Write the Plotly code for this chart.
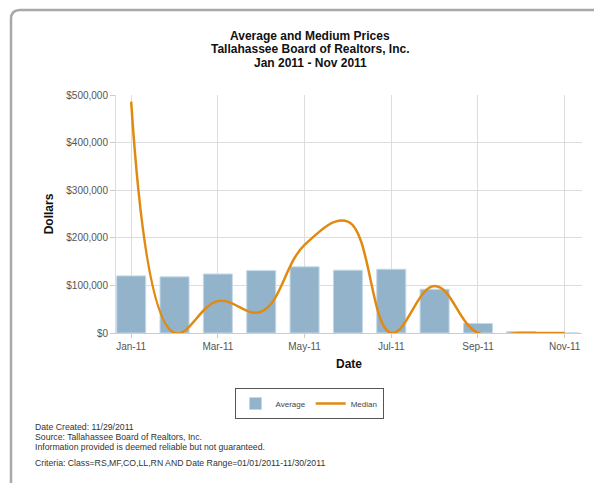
import plotly.graph_objects as go

months = ["Jan-11", "Feb-11", "Mar-11", "Apr-11", "May-11", "Jun-11",
          "Jul-11", "Aug-11", "Sep-11", "Oct-11", "Nov-11"]
average = [120000, 118000, 124000, 131000, 139000, 132000, 134000, 92000, 20000, 3000, 0]
median = [486000, 0, 67000, 45000, 185000, 234000, 0, 99000, 0, 0, 0]
tick_labels = ["Jan-11", "Mar-11", "May-11", "Jul-11", "Sep-11", "Nov-11"]
y_ticks = [0, 100000, 200000, 300000, 400000, 500000]
y_tick_text = ["$0", "$100,000", "$200,000", "$300,000", "$400,000", "$500,000"]
title_lines = ["Average and Medium Prices",
               "Tallahassee Board of Realtors, Inc.",
               "Jan 2011 - Nov 2011"]

# page body has an 8px margin; screen coordinates below are for the photo
OFF = 8
L, R, T, B = 116, 582, 95, 333
W, H = 602 - OFF, 483 - OFF

def px(x):
    return (x - L) / (R - L)

def py(y):
    return (B - y) / (B - T)

fig = go.Figure()
fig.add_trace(go.Bar(
    x=months, y=average, name="Average", width=0.67,
    marker=dict(color="#93b3ca", line=dict(color="#c4d9e8", width=1)),
))
fig.add_trace(go.Scatter(
    x=months, y=median, name="Median", mode="lines",
    line=dict(color="#e08a12", width=2.5, shape="spline", smoothing=1.15),
))

font_main = "Liberation Sans, Arial, sans-serif"

# frame with rounded top-left corner
fl, ft, fr, fb = px(11), py(10), px(603), py(486)
rx, ry = 9 / (R - L), 9 / (B - T)
frame_path = (f"M {fl},{fb} L {fl},{ft - ry} Q {fl},{ft} {fl + rx},{ft} L {fr},{ft}")

fig.update_layout(
    width=W, height=H,
    margin=dict(l=L - OFF, r=W - (R - OFF), t=T - OFF, b=H - (B - OFF)),
    paper_bgcolor="white", plot_bgcolor="white",
    font=dict(family=font_main, size=10, color="#555555"),
    bargap=0.33,
    xaxis=dict(
        type="category", range=[-0.35, 10.4],
        tickmode="array", tickvals=tick_labels, ticktext=tick_labels,
        showgrid=True, gridcolor="#dddddd", gridwidth=1,
        ticks="outside", ticklen=4, tickcolor="#cccccc",
        showline=True, linecolor="#cccccc",
        tickfont=dict(size=10, color="#555555"),
        title=dict(text="Date", standoff=8,
                   font=dict(size=12, color="#111111", weight="bold")),
    ),
    yaxis=dict(
        range=[0, 500000], tickvals=y_ticks, ticktext=y_tick_text,
        showgrid=True, gridcolor="#dddddd", gridwidth=1,
        ticks="outside", ticklen=5, tickcolor="#cccccc",
        showline=True, linecolor="#dddddd", zeroline=False,
        tickfont=dict(size=10, color="#555555"),
        title=dict(text="Dollars", standoff=10,
                   font=dict(size=12, color="#111111", weight="bold")),
    ),
    legend=dict(
        orientation="h", x=px(309), xanchor="center", y=py(388), yanchor="top",
        bordercolor="#555555", borderwidth=1, bgcolor="white",
        font=dict(size=8, color="#444444"),
        itemwidth=30, tracegroupgap=0,
    ),
    showlegend=True,
    shapes=[dict(type="path", xref="paper", yref="paper", path=frame_path,
                 line=dict(color="#a8a8a8", width=2.5))],
)

for yy, t in zip([36, 49, 63], title_lines):
    fig.add_annotation(
        text=f"<b>{t}</b>", xref="paper", yref="paper", x=px(310), y=py(yy),
        xanchor="center", yanchor="middle", showarrow=False,
        font=dict(size=12, color="#111111", family=font_main),
    )

notes = [
    (427, "Date Created: 11/29/2011"),
    (437, "Source: Tallahassee Board of Realtors, Inc."),
    (447, "Information provided is deemed reliable but not guaranteed."),
    (463, "Criteria: Class=RS,MF,CO,LL,RN AND Date Range=01/01/2011-11/30/2011"),
]
for yy, t in notes:
    fig.add_annotation(
        text=t, xref="paper", yref="paper", x=px(33), y=py(yy),
        xanchor="left", yanchor="middle", showarrow=False,
        font=dict(size=8.7, color="#333333", family=font_main),
    )

fig.write_html("out.html")
